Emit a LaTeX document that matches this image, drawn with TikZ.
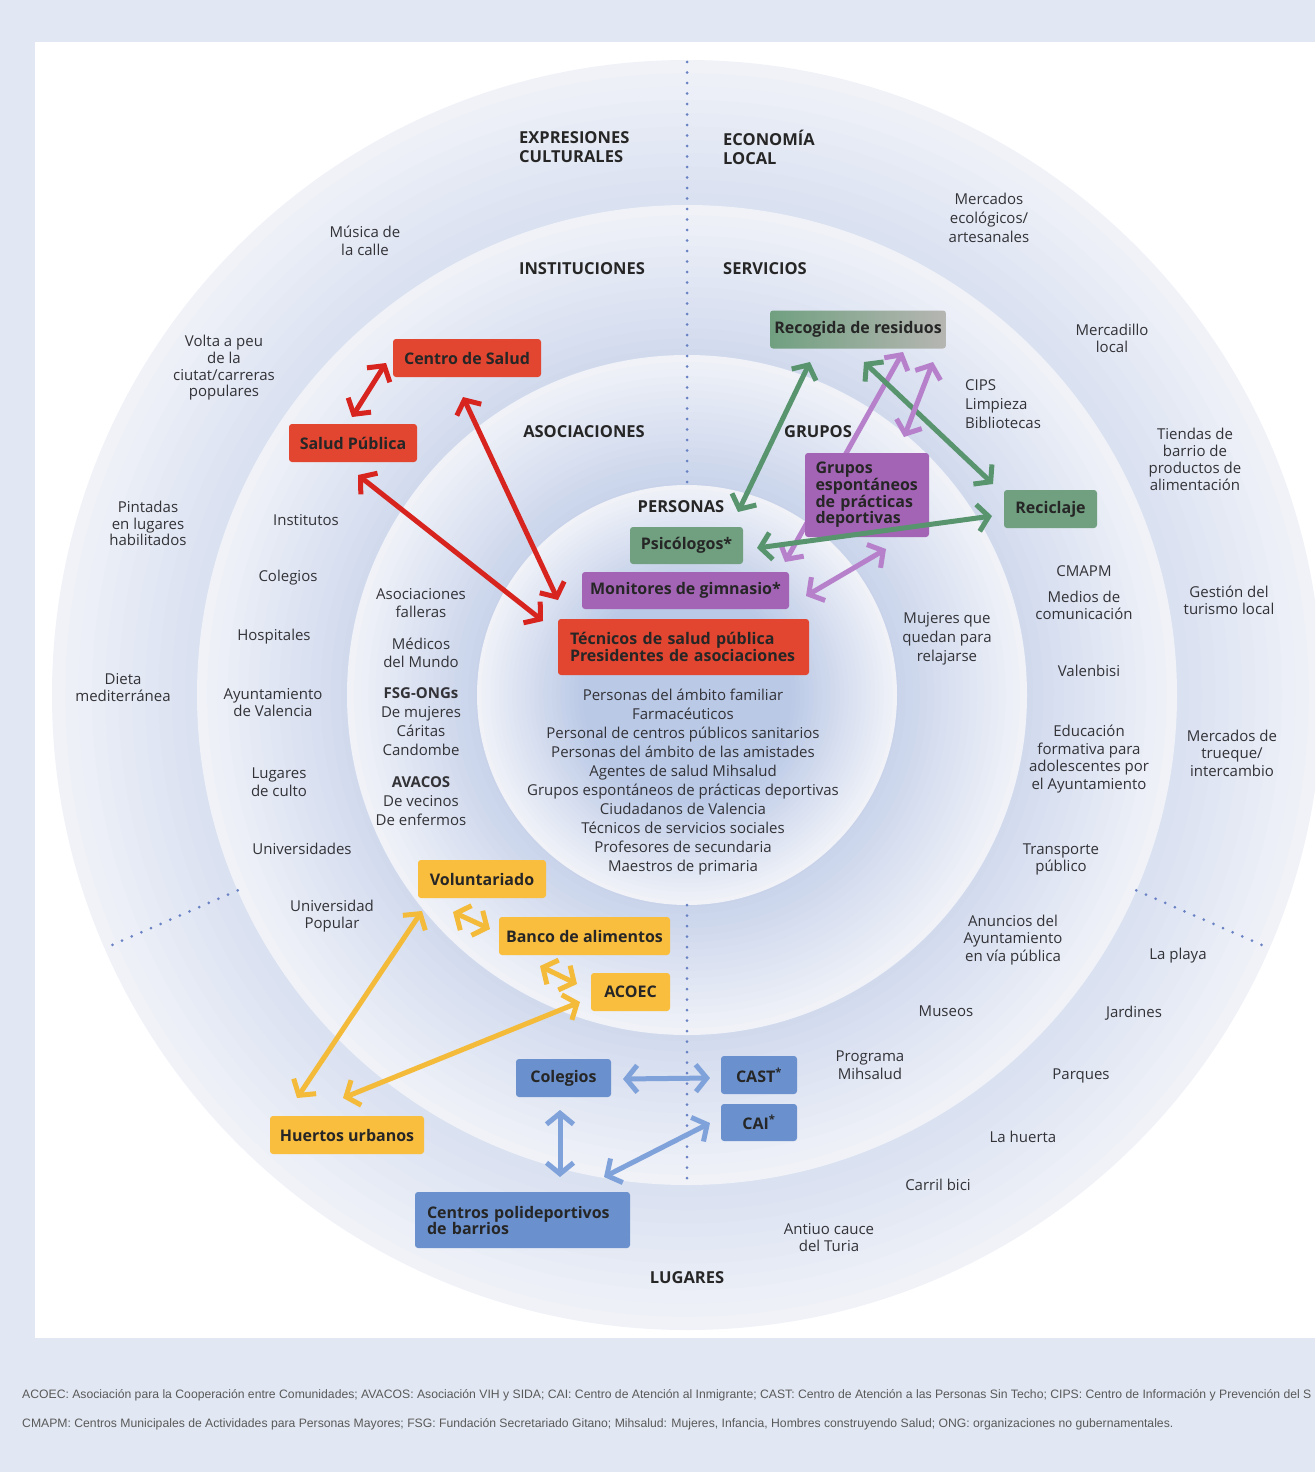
\documentclass[tikz,border=0pt]{standalone}
\usepackage{fontspec}
\setmainfont{Open Sans}
\newfontfamily\notafont{Liberation Sans}
\usetikzlibrary{arrows.meta}

\definecolor{fondo}{RGB}{226,232,243}
\definecolor{anilloazul}{RGB}{184,199,229}
\definecolor{anillopalido}{RGB}{240,242,248}
\definecolor{azulpuntos}{RGB}{105,130,196}
\definecolor{textogris}{RGB}{50,50,55}
\definecolor{cajarojo}{RGB}{226,70,48}
\definecolor{flecharojo}{RGB}{216,36,30}
\definecolor{cajaverde}{RGB}{112,160,128}
\definecolor{cajagris}{RGB}{182,182,178}
\definecolor{flechaverde}{RGB}{88,148,110}
\definecolor{cajamorado}{RGB}{164,100,182}
\definecolor{flechamorado}{RGB}{182,128,202}
\definecolor{cajaamarillo}{RGB}{250,190,62}
\definecolor{flechaamarillo}{RGB}{244,186,58}
\definecolor{cajaazul}{RGB}{106,145,206}
\definecolor{flechaazul}{RGB}{128,162,218}

\begin{document}
\begin{tikzpicture}[x=1pt,y=-1pt,
	etiq/.style={align=center, text=textogris, inner sep=0pt, font=\fontsize{15}{17.5}\selectfont},
	titulo/.style={align=left, text=black!85, inner sep=0pt, font=\bfseries\fontsize{16.5}{19}\selectfont},
	caja/.style={rounded corners=3pt, inner sep=0pt, minimum height=38pt, text=black!85, font=\bfseries\fontsize{16}{17}\selectfont},
	flecha/.style={line width=5pt, >={Straight Barb[length=11pt,width=27pt]}, <->},
	punteado/.style={azulpuntos, line width=3pt, line cap=round, dash pattern=on 0pt off 10.5pt},
	nota/.style={anchor=west, inner sep=0pt, text=black!65, font=\notafont\fontsize{12.2}{14}\selectfont}]

	\useasboundingbox (0,0) rectangle (1315,1472);
	\clip (0,0) rectangle (1315,1472);
	\fill[fondo] (0,0) rectangle (1315,1472);
	\fill[white] (35,42) rectangle (1315,1338);

	% anillos: cada disco pasa de palido (borde) a azul (hacia dentro)
	\coordinate (o) at (687,695);
	\foreach \radio in {635,490,340,210}{
		\foreach \i in {0,...,24}{
			\pgfmathtruncatemacro{\mezcla}{100-4*\i}
			\pgfmathsetmacro{\r}{\radio*(1-0.021*\i)}
			\fill[anillopalido!\mezcla!anilloazul] (o) circle[radius=\r pt];
		}
	}

	\draw[punteado] (687,62) -- (687,485);
	\draw[punteado] (687,905) -- (687,1182);
	\draw[punteado] ([shift={(156.5:490)}]o) -- ([shift={(156.5:635)}]o);
	\draw[punteado] ([shift={(23.5:490)}]o) -- ([shift={(23.5:635)}]o);

	% extremos de las flechas
	\coordinate (r1a) at (352,417);  \coordinate (r1b) at (386,363);
	\coordinate (r2a) at (358,475);  \coordinate (r2b) at (543,621);
	\coordinate (r3a) at (463,397);  \coordinate (r3b) at (558,600);
	\coordinate (g1a) at (810,362);  \coordinate (g1b) at (738,512);
	\coordinate (g2a) at (864,362);  \coordinate (g2b) at (993,484);
	\coordinate (g3a) at (992,516);  \coordinate (g3b) at (757,548);
	\coordinate (p1a) at (903,352);  \coordinate (p1b) at (785,562);
	\coordinate (p2a) at (933,362);  \coordinate (p2b) at (904,437);
	\coordinate (p3a) at (886,549);  \coordinate (p3b) at (806,596);
	\coordinate (y1a) at (453,912);  \coordinate (y1b) at (490,929);
	\coordinate (y2a) at (540,966);  \coordinate (y2b) at (577,984);
	\coordinate (y3a) at (422,911);  \coordinate (y3b) at (297,1098);
	\coordinate (y4a) at (580,1002); \coordinate (y4b) at (343,1098);
	\coordinate (b1a) at (623,1079); \coordinate (b1b) at (710,1078);
	\coordinate (b2a) at (560,1110); \coordinate (b2b) at (560,1177);
	\coordinate (b3a) at (710,1123); \coordinate (b3b) at (604,1177);

	% pasa por debajo de la caja morada
	\draw[flecha, flechamorado] (p1a) -- (p1b);

	% sectores
	\node[titulo, anchor=west] (expresiones) at (519,147.5) {EXPRESIONES\\CULTURALES};
	\node[titulo, anchor=west] (economia) at (723,147.5) {ECONOMÍA\\LOCAL};
	\node[titulo] (instituciones) at (582,269) {INSTITUCIONES};
	\node[titulo] (servicios) at (765,269) {SERVICIOS};
	\node[titulo] (asociaciones) at (584,432) {ASOCIACIONES};
	\node[titulo] (grupos) at (818,432) {GRUPOS};
	\node[titulo] (personas) at (681,507) {PERSONAS};
	\node[titulo] (lugares) at (687,1278) {LUGARES};

	% textos
	\node[etiq] (musica) at (365,241) {Música de\\la calle};
	\node[etiq, font=\fontsize{15}{19}\selectfont] (mercadoseco) at (989,218) {Mercados\\ecológicos/\\artesanales};
	\node[etiq, font=\fontsize{15}{16.7}\selectfont] (volta) at (224,368) {Volta a peu\\de la\\ciutat/carreras\\populares};
	\node[etiq] (mercadillo) at (1112,338.5) {Mercadillo\\local};
	\node[etiq, anchor=west, align=left, font=\fontsize{15}{19}\selectfont] (cips) at (965,404) {CIPS\\Limpieza\\Bibliotecas};
	\node[etiq, font=\fontsize{15}{17}\selectfont] (tiendas) at (1195,459.5) {Tiendas de\\barrio de\\productos de\\alimentación};
	\node[etiq, font=\fontsize{15}{16.5}\selectfont] (pintadas) at (148,523.5) {Pintadas\\en lugares\\habilitados};
	\node[etiq] (institutos) at (306,520) {Institutos};
	\node[etiq] (colegiosinst) at (288,578) {Colegios};
	\node[etiq] (hospitales) at (274,637) {Hospitales};
	\node[etiq] (dieta) at (123,687.5) {Dieta\\mediterránea};
	\node[etiq] (ayuntamiento) at (273,702.5) {Ayuntamiento\\de Valencia};
	\node[etiq] (culto) at (279,782) {Lugares\\de culto};
	\node[etiq] (universidades) at (302,849) {Universidades};
	\node[etiq] (unipopular) at (332,916) {Universidad\\Popular};
	\node[etiq] (falleras) at (421,603) {Asociaciones\\falleras};
	\node[etiq] (medicos) at (421,653) {Médicos\\del Mundo};
	\node[etiq, font=\fontsize{15}{19}\selectfont] (fsg) at (421,722) {\textbf{FSG-ONGs}\\De mujeres\\Cáritas\\Candombe};
	\node[etiq, font=\fontsize{15}{19}\selectfont] (avacos) at (421,801) {\textbf{AVACOS}\\De vecinos\\De enfermos};
	\node[etiq, font=\fontsize{15}{19}\selectfont] (listapersonas) at (683,782.5) {Personas del ámbito familiar\\Farmacéuticos\\Personal de centros públicos sanitarios\\Personas del ámbito de las amistades\\Agentes de salud Mihsalud\\Grupos espontáneos de prácticas deportivas\\Ciudadanos de Valencia\\Técnicos de servicios sociales\\Profesores de secundaria\\Maestros de primaria};
	\node[etiq, font=\fontsize{15}{19}\selectfont] (mujeres) at (947,639) {Mujeres que\\quedan para\\relajarse};
	\node[etiq] (cmapm) at (1084,571) {CMAPM};
	\node[etiq] (medios) at (1084,605.5) {Medios de\\comunicación};
	\node[etiq] (valenbisi) at (1089,671) {Valenbisi};
	\node[etiq] (educacion) at (1089,759) {Educación\\formativa para\\adolescentes por\\el Ayuntamiento};
	\node[etiq] (transporte) at (1061,859.5) {Transporte\\público};
	\node[etiq] (turismo) at (1229,600.5) {Gestión del\\turismo local};
	\node[etiq] (trueque) at (1232,753) {Mercados de\\trueque/\\intercambio};
	\node[etiq] (anuncios) at (1013,940) {Anuncios del\\Ayuntamiento\\en vía pública};
	\node[etiq] (playa) at (1178,956) {La playa};
	\node[etiq] (museos) at (946,1011) {Museos};
	\node[etiq] (jardines) at (1134,1013) {Jardines};
	\node[etiq] (programa) at (870,1065) {Programa\\Mihsalud};
	\node[etiq] (parques) at (1081,1076) {Parques};
	\node[etiq] (huerta) at (1023,1137) {La huerta};
	\node[etiq] (carril) at (938,1185) {Carril bici};
	\node[etiq] (cauce) at (829,1237.5) {Antiuo cauce\\del Turia};

	% cajas
	\node[caja, fill=cajarojo, minimum width=148pt] (centrosalud) at (467,358) {Centro de Salud};
	\node[caja, fill=cajarojo, minimum width=128pt] (saludpub) at (353,443) {Salud Pública};
	\node[caja, fill=cajarojo, minimum height=56pt, text width=227pt, inner xsep=12pt, align=left] (tecnicos) at (683.5,647) {Técnicos de salud pública\\Presidentes de asociaciones};
	\node[caja, left color=cajaverde, right color=cajagris, minimum width=176pt] (recogida) at (858,329.5) {Recogida de residuos};
	\node[caja, fill=cajaverde, minimum width=93pt] (reciclaje) at (1050.5,509) {Reciclaje};
	\node[caja, fill=cajaverde, minimum width=113pt, minimum height=37pt] (psicologos) at (686.5,545.5) {Psicólogos*};
	\node[caja, fill=cajamorado, minimum height=84pt, text width=103pt, inner xsep=10.5pt, align=left, font=\bfseries\fontsize{16}{16}\selectfont] (gruposesp) at (867,495) {Grupos\\espontáneos\\de prácticas\\deportivas};
	\node[caja, fill=cajamorado, minimum width=207pt, minimum height=37pt] (monitores) at (685.5,590.5) {Monitores de gimnasio*};
	\node[caja, fill=cajaamarillo, minimum width=128pt] (voluntariado) at (482,879) {Voluntariado};
	\node[caja, fill=cajaamarillo, minimum width=171pt] (banco) at (584.5,936) {Banco de alimentos};
	\node[caja, fill=cajaamarillo, minimum width=79pt] (acoec) at (630.5,992) {ACOEC};
	\node[caja, fill=cajaamarillo, minimum width=154pt] (huertos) at (347,1135) {Huertos urbanos};
	\node[caja, fill=cajaazul, minimum width=95pt] (colegios) at (563.5,1078) {Colegios};
	\node[caja, fill=cajaazul, minimum width=76pt] (cast) at (759,1075) {CAST\textsuperscript{*}};
	\node[caja, fill=cajaazul, minimum width=76pt, minimum height=37pt] (cai) at (759,1122.5) {CAI\textsuperscript{*}};
	\node[caja, fill=cajaazul, minimum height=56pt, text width=191pt, inner xsep=12pt, align=left, font=\bfseries\fontsize{16}{16}\selectfont] (polideportivos) at (522.5,1220) {Centros polideportivos\\de barrios};

	% flechas
	\draw[flecha, flecharojo] (r1a) -- (r1b);
	\draw[flecha, flecharojo] (r2a) -- (r2b);
	\draw[flecha, flecharojo] (r3a) -- (r3b);
	\draw[flecha, flechaverde] (g1a) -- (g1b);
	\draw[flecha, flechaverde] (g2a) -- (g2b);
	\draw[flecha, flechaverde] (g3a) -- (g3b);
	\draw[flecha, flechamorado] (p2a) -- (p2b);
	\draw[flecha, flechamorado] (p3a) -- (p3b);
	\draw[flecha, flechaamarillo] (y1a) -- (y1b);
	\draw[flecha, flechaamarillo] (y2a) -- (y2b);
	\draw[flecha, flechaamarillo] (y3a) -- (y3b);
	\draw[flecha, flechaamarillo] (y4a) -- (y4b);
	\draw[flecha, flechaazul] (b1a) -- (b1b);
	\draw[flecha, flechaazul] (b2a) -- (b2b);
	\draw[flecha, flechaazul] (b3a) -- (b3b);

	% notas
	\node[nota] (nota1) at (22,1395) {ACOEC: Asociación para la Cooperación entre Comunidades; AVACOS: Asociación VIH y SIDA; CAI: Centro de Atención al Inmigrante; CAST: Centro de Atención a las Personas Sin Techo; CIPS: Centro de Información y Prevención del S};
	\node[nota] (nota2) at (22,1424) {CMAPM: Centros Municipales de Actividades para Personas Mayores; FSG: Fundación Secretariado Gitano; Mihsalud: Mujeres, Infancia, Hombres construyendo Salud; ONG: organizaciones no gubernamentales.};

\end{tikzpicture}
\end{document}
